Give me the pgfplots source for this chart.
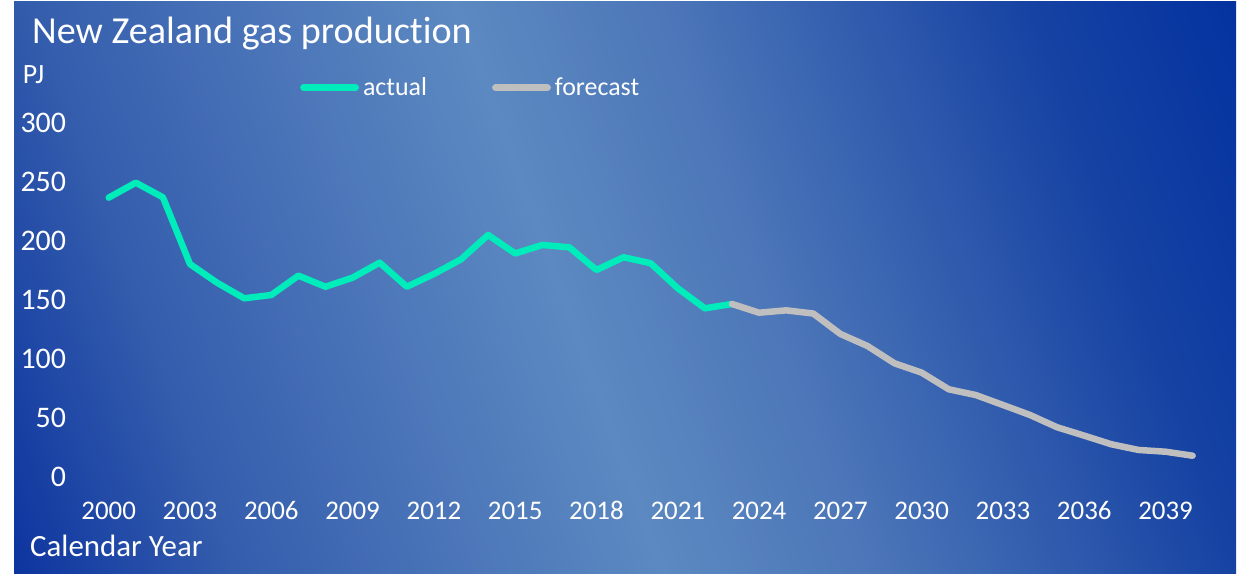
\documentclass[border=0pt]{standalone}
\usepackage{pgfplots}
\pgfplotsset{compat=1.18}
\usepackage{fontspec}
\setmainfont{Carlito}[Ligatures={NoCommon}]

\definecolor{actualc}{RGB}{0,236,186}
\definecolor{forec}{RGB}{191,191,191}
\definecolor{bgA}{RGB}{10,50,158}
\definecolor{bgB}{RGB}{30,70,165}
\definecolor{bgC}{RGB}{52,93,173}
\definecolor{bgD}{RGB}{74,116,184}
\definecolor{bgE}{RGB}{92,137,193}
\definecolor{bgF}{RGB}{76,118,184}
\definecolor{bgG}{RGB}{45,88,172}
\definecolor{bgH}{RGB}{22,66,163}
\definecolor{bgI}{RGB}{3,50,160}
\pgfdeclarehorizontalshading{bgshade}{1800bp}{color(0bp)=(bgA); color(130bp)=(bgA); color(230bp)=(bgB); color(350bp)=(bgC); color(550bp)=(bgD); color(750bp)=(bgE); color(950bp)=(bgF); color(1150bp)=(bgG); color(1290bp)=(bgH); color(1490bp)=(bgI); color(1500bp)=(bgI)}

\begin{document}
\begin{tikzpicture}[x=1bp,y=1bp]
\useasboundingbox (0,0) rectangle (1237,574);
\fill[white] (0,0) rectangle (1237,574);
\begin{scope}
\clip (14,0.5) rectangle (1236,572);
\node[inner sep=0pt, outer sep=0pt, rotate=20, anchor=center] at (560,284) {\pgfuseshading{bgshade}};
\end{scope}

\node[anchor=base west, text=white, font=\fontsize{38.3}{40}\selectfont, inner sep=0pt] at (32,530.7) {New Zealand gas production};
\node[anchor=base west, text=white, font=\fontsize{28}{30}\selectfont, inner sep=0pt] at (22.7,490.7) {PJ};
\node[anchor=base west, text=white, font=\fontsize{31}{33}\selectfont, inner sep=0pt] at (30,17.3) {Calendar Year};

\begin{axis}[
  at={(95.15bp,97.5bp)}, anchor=south west,
  scale only axis, width=1111.1bp, height=354bp,
  xmin=1999.5, xmax=2040.5, ymin=0, ymax=300,
  axis line style={draw=none}, major tick length=0pt,
  xtick={2000,2003,...,2039}, ytick={0,50,...,300},
  /pgf/number format/assume math mode=true,
  x tick label style={font=\fontsize{27}{30}\selectfont, text=white, anchor=base, inner sep=0pt, yshift=-43.5bp, /pgf/number format/1000 sep={}},
  y tick label style={font=\fontsize{30}{32}\selectfont, text=white, anchor=east, inner sep=0pt, xshift=-29bp},
  clip=false,
  legend columns=2,
  legend style={at={(0.1845,1.0983)}, anchor=west, draw=none, fill=none, text=white,
    font=\fontsize{26}{28}\selectfont, inner sep=0pt, outer sep=0pt,
    nodes={inner sep=0pt, text=white},
    /tikz/every odd column/.style={column sep=4bp},
    /tikz/every even column/.style={column sep=65bp}},
  legend image code/.code={\draw[#1, line width=7.3bp, line cap=round] (0bp,0bp) -- (51.6bp,0bp);},
]
\addplot[actualc, line width=6.5bp, line join=round, line cap=round] coordinates {
(2000,236.3) (2001,249) (2002,236.6) (2003,180) (2004,164.2) (2005,151)
(2006,153.8) (2007,170.2) (2008,160.8) (2009,168.5) (2010,181.2) (2011,160.8)
(2012,171.6) (2013,184) (2014,204.7) (2015,189) (2016,196.2) (2017,194.2)
(2018,175) (2019,185.8) (2020,180.7) (2021,159.5) (2022,142.5) (2023,146.2)
};
\addlegendentry{actual}
\addplot[forec, line width=6.5bp, line join=round, line cap=round] coordinates {
(2023,146.2) (2024,138.8) (2025,140.8) (2026,138.1) (2027,120.8) (2028,110.6)
(2029,95.9) (2030,88) (2031,73.9) (2032,69) (2033,60.6) (2034,52.1)
(2035,41.7) (2036,34.6) (2037,27.3) (2038,22.5) (2039,21) (2040,17.6)
};
\addlegendentry{forecast}
\end{axis}
\end{tikzpicture}
\end{document}
